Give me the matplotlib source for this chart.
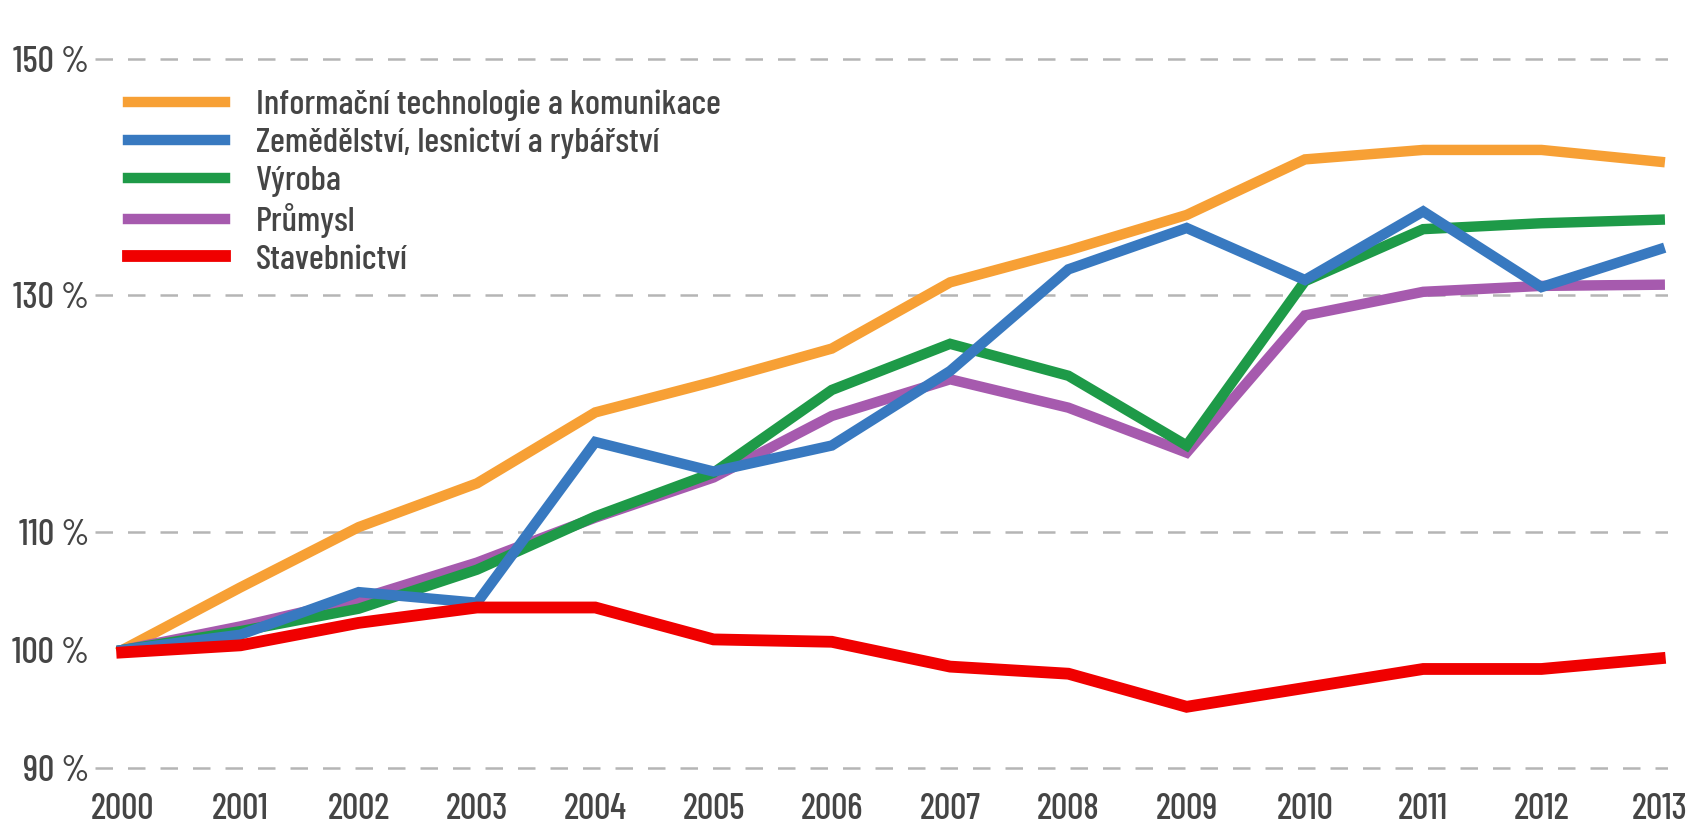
import matplotlib
matplotlib.use("Agg")
import matplotlib.pyplot as plt

plt.rcParams['font.family'] = ['Barlow Condensed', 'DejaVu Sans']
plt.rcParams['font.weight'] = 'medium'

years = list(range(2000, 2014))
ict = [100, 105.3, 110.4, 114.1, 120.1, 122.7, 125.5, 131.1, 133.8, 136.8, 141.5, 142.3, 142.3, 141.3]
zemedelstvi = [100, 101.3, 104.9, 104.0, 117.6, 115.1, 117.3, 123.6, 132.2, 135.7, 131.3, 137.1, 130.7, 133.9]
vyroba = [100, 101.6, 103.5, 106.8, 111.3, 115.0, 122.0, 125.9, 123.2, 117.3, 131.2, 135.6, 136.1, 136.4]
prumysl = [100, 102.0, 104.3, 107.4, 111.2, 114.6, 119.8, 122.9, 120.5, 116.7, 128.3, 130.3, 130.8, 130.9]
stavebnictvi = [99.8, 100.4, 102.3, 103.6, 103.6, 100.9, 100.7, 98.6, 98.0, 95.2, 96.8, 98.4, 98.4, 99.3]

labels = ['Informační technologie a komunikace', 'Zemědělství, lesnictví a rybářství',
          'Výroba', 'Průmysl', 'Stavebnictví']
colors = ['#F7A035', '#3879C0', '#1E9A48', '#A65AAE', '#F00000']

ytick_vals = [90, 100, 110, 130, 150]
ytick_labels = ['90 %', '100 %', '110 %', '130 %', '150 %']
grid_vals = [90, 110, 130, 150]

fig = plt.figure(figsize=(16.96, 8.26), dpi=100)
ax = fig.add_axes([0.056, 0.067, 0.9275, 0.866])

for g in grid_vals:
    ax.axhline(g, color='#b5b5b5', lw=1.8, dashes=(7, 6), zorder=0)

series = [ict, zemedelstvi, vyroba, prumysl, stavebnictvi]
zorders = [2, 5, 4, 3, 6]
handles = []
for data, lab, c, z in zip(series, labels, colors, zorders):
    lw = 8.5 if c == '#F00000' else 7.5
    h, = ax.plot(years, data, color=c, lw=lw, label=lab, zorder=z, solid_joinstyle='miter')
    handles.append(h)

ax.set_xlim(1999.77, 2013.07)
ax.set_ylim(89.8, 150.3)
ax.set_xticks(years)
ax.set_xticklabels([str(y) for y in years])
ax.set_yticks(ytick_vals)
ax.set_yticklabels(ytick_labels)
ax.tick_params(axis='both', length=0, labelsize=26, colors='#454545')
ax.tick_params(axis='x', pad=16)
ax.tick_params(axis='y', pad=4)
for s in ax.spines.values():
    s.set_visible(False)

leg = ax.legend(handles=handles, loc='upper left', bbox_to_anchor=(0.012, 0.972),
                frameon=False, fontsize=25.5, handlelength=2.75, handletextpad=0.85,
                labelspacing=0.17, borderaxespad=0)
for t in leg.get_texts():
    t.set_color('#454545')

fig.savefig('out.png', dpi=100)
